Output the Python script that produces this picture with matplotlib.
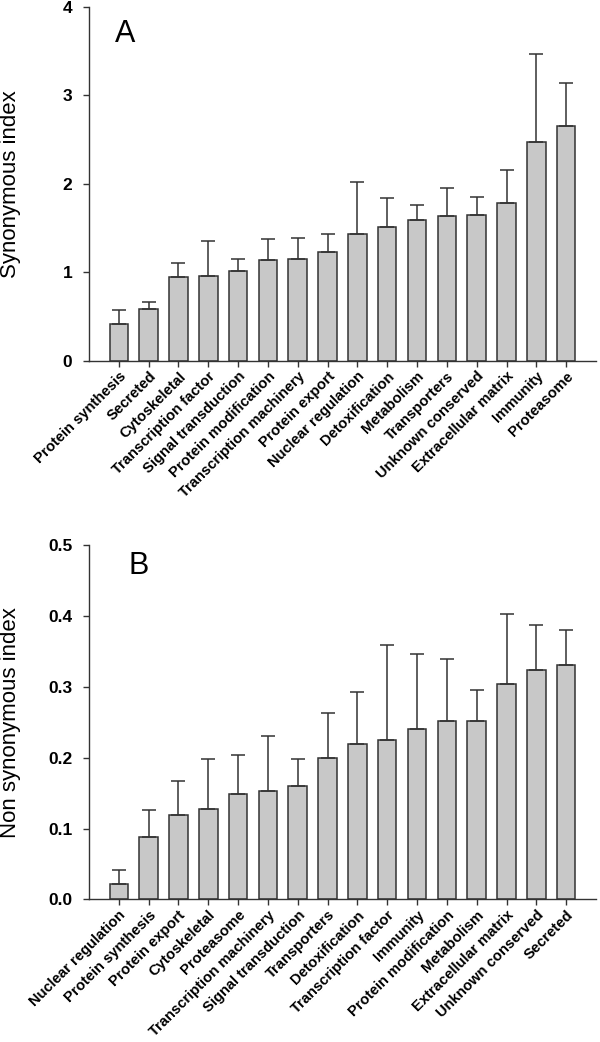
import numpy as np
import matplotlib
matplotlib.use("Agg")
import matplotlib.pyplot as plt
from matplotlib.ticker import FormatStrFormatter

plt.rcParams['font.family'] = ['Liberation Sans', 'DejaVu Sans']

# panel A - synonymous index
cats_a = ['Protein synthesis', 'Secreted', 'Cytoskeletal', 'Transcription factor',
          'Signal transduction', 'Protein modification', 'Transcription machinery',
          'Protein export', 'Nuclear regulation', 'Detoxification', 'Metabolism',
          'Transporters', 'Unknown conserved', 'Extracellular matrix', 'Immunity',
          'Proteasome']
vals_a = [0.415, 0.588, 0.949, 0.96, 1.02, 1.141, 1.149, 1.232, 1.439, 1.518,
          1.593, 1.638, 1.653, 1.789, 2.471, 2.655]
tops_a = [0.576, 0.67, 1.104, 1.353, 1.153, 1.382, 1.39, 1.432, 2.02, 1.845,
          1.766, 1.955, 1.853, 2.162, 3.469, 3.141]

# panel B - non synonymous index
cats_b = ['Nuclear regulation', 'Protein synthesis', 'Protein export', 'Cytoskeletal',
          'Proteasome', 'Transcription machinery', 'Signal transduction',
          'Transporters', 'Detoxification', 'Transcription factor', 'Immunity',
          'Protein modification', 'Metabolism', 'Extracellular matrix',
          'Unknown conserved', 'Secreted']
vals_b = [0.0214, 0.0886, 0.119, 0.127, 0.149, 0.153, 0.1605, 0.2, 0.2193, 0.2245,
          0.24, 0.2513, 0.2513, 0.304, 0.324, 0.330]
tops_b = [0.042, 0.1267, 0.1676, 0.1986, 0.2034, 0.231, 0.1986, 0.2635, 0.2927,
          0.359, 0.3467, 0.3388, 0.296, 0.403, 0.3867, 0.3805]

fig = plt.figure(figsize=(6, 10.42), dpi=100)
ax1 = fig.add_axes([0.1483, 0.6536, 0.845, 0.3397])
ax2 = fig.add_axes([0.1483, 0.1368, 0.845, 0.3402])


def panel(ax, cats, vals, tops, ymax, step, fmt, ylabel, letter, lx, ly):
    x = np.arange(len(cats))
    vals = np.array(vals)
    up = np.array(tops) - vals
    ax.bar(x, vals, width=0.62, color='#c8c8c8', edgecolor='#333333',
           linewidth=1.1, zorder=2)
    ax.errorbar(x, vals, yerr=[np.zeros_like(up), up], fmt='none',
                ecolor='#333333', elinewidth=1.1, capsize=5, capthick=1.1,
                zorder=3)
    ax.set_xlim(-1, 16)
    ax.set_ylim(0, ymax)
    ax.set_yticks(np.arange(0, ymax + step / 2, step))
    ax.yaxis.set_major_formatter(FormatStrFormatter(fmt))
    ax.set_xticks(x)
    ax.set_xticklabels(cats, rotation=45, ha='right', rotation_mode='anchor',
                       fontsize=10.6, fontweight='bold')
    for lab in ax.get_yticklabels():
        lab.set_fontweight('bold')
        lab.set_fontsize(12.5)
    ax.tick_params(axis='both', direction='out', length=4, width=1,
                   color='#333333')
    ax.tick_params(axis='y', pad=8)
    ax.tick_params(axis='x', pad=2)
    ax.spines['top'].set_visible(False)
    ax.spines['right'].set_visible(False)
    for s in ['left', 'bottom']:
        ax.spines[s].set_color('#333333')
        ax.spines[s].set_linewidth(1)
    ax.set_ylabel(ylabel, fontsize=16)
    ax.yaxis.set_label_coords(-0.134, 0.5)
    ax.text(lx, ly, letter, transform=ax.transAxes, fontsize=22,
            va='baseline', ha='left')


panel(ax1, cats_a, vals_a, tops_a, 4, 1, '%d', 'Synonymous index', 'A', 0.051, 0.901)
panel(ax2, cats_b, vals_b, tops_b, 0.5, 0.1, '%.1f', 'Non synonymous index', 'B', 0.077, 0.918)

fig.savefig('out.png', dpi=100)
